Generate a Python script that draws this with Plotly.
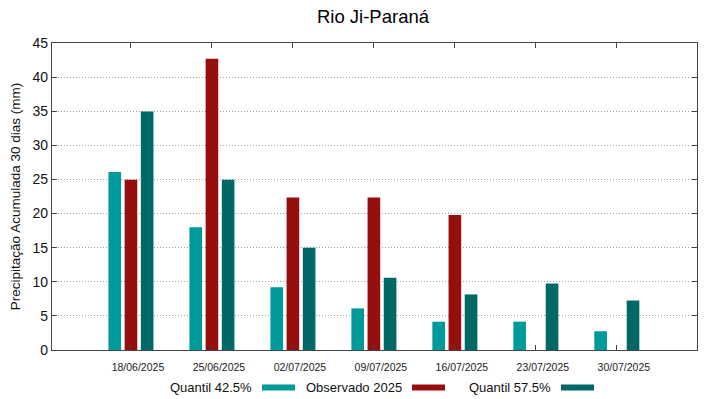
import plotly.graph_objects as go

categories = ["18/06/2025", "25/06/2025", "02/07/2025", "09/07/2025",
              "16/07/2025", "23/07/2025", "30/07/2025"]
quantil_425 = [26.1, 18.0, 9.2, 6.1, 4.15, 4.15, 2.75]
observado_2025 = [24.95, 42.7, 22.35, 22.35, 19.8, 0, 0]
quantil_575 = [34.95, 24.95, 15.0, 10.6, 8.15, 9.75, 7.25]
y_ticks = [0, 5, 10, 15, 20, 25, 30, 35, 40, 45]

series_names = ["Quantil 42.5%", "Observado 2025", "Quantil 57.5%"]
series_colors = ["#019a9a", "#970e0e", "#016868"]
series_values = [quantil_425, observado_2025, quantil_575]

FONT = "Liberation Sans, Arial, sans-serif"

fig = go.Figure()
for name, color, vals in zip(series_names, series_colors, series_values):
    fig.add_trace(go.Bar(
        x=list(range(len(categories))), y=vals, name=name,
        marker=dict(color=color, line=dict(width=0)),
        showlegend=False,
    ))

W, H = 719, 399
pl, pr, pt, pb = 52, 22, 43, 49

fig.update_layout(
    width=W, height=H,
    margin=dict(l=pl, r=pr, t=pt, b=pb, autoexpand=False),
    paper_bgcolor="white", plot_bgcolor="white",
    barmode="group", bargap=0.4, bargroupgap=0.22,
    font=dict(family=FONT, color="#000000"),
    title=dict(text="Rio Ji-Paraná", x=373 / W, xanchor="center",
               y=1 - 17 / H, yanchor="middle", yref="container",
               font=dict(size=18.5, family=FONT, color="#000")),
)

fig.update_xaxes(
    range=[-0.975, 6.99],
    tickmode="array", tickvals=list(range(len(categories))), ticktext=categories,
    tickfont=dict(size=10.5, family=FONT, color="#222"),
    ticks="inside", ticklen=5, tickcolor="#444",
    ticklabelshift=7, ticklabelstandoff=7,
    showline=True, linecolor="#444", linewidth=1.3, mirror="ticks",
    showgrid=False, zeroline=False,
)
fig.update_yaxes(
    range=[0, 45],
    tickmode="array", tickvals=y_ticks,
    tickfont=dict(size=14, family=FONT, color="#111"),
    ticks="inside", ticklen=5, tickcolor="#444",
    showline=True, linecolor="#444", linewidth=1.3, mirror="ticks",
    showgrid=True, gridcolor="#a0a0a0", griddash="1px,2px", gridwidth=1,
    zeroline=False, automargin=False,
    title=dict(text="Precipitação Acumulada 30 dias (mm)",
               font=dict(size=13.5, family=FONT, color="#111"), standoff=8),
)

# gnuplot-style legend: text followed by a color swatch
legend_text_right = [254, 404, 553]   # px, right edge of text
swatch_left = [262, 412, 561]
swatch_w = 33
pw, ph = W - pl - pr, H - pt - pb
def px(x):
    return (x - pl) / pw
def py(y):
    return (H - pb - y) / ph
for name, color, tr, sl in zip(series_names, series_colors, legend_text_right, swatch_left):
    fig.add_annotation(x=px(tr), y=py(387), xref="paper", yref="paper",
                       text=name, showarrow=False, xanchor="right", yanchor="middle",
                       font=dict(size=13, family=FONT, color="#111"))
    fig.add_shape(type="rect", xref="paper", yref="paper",
                  x0=px(sl), x1=px(sl + swatch_w), y0=py(390.5), y1=py(384.5),
                  fillcolor=color, line=dict(width=0))

fig.write_html("out.html", config={"displayModeBar": False},
               post_script="document.body.style.margin='0';document.body.style.overflow='hidden';")
